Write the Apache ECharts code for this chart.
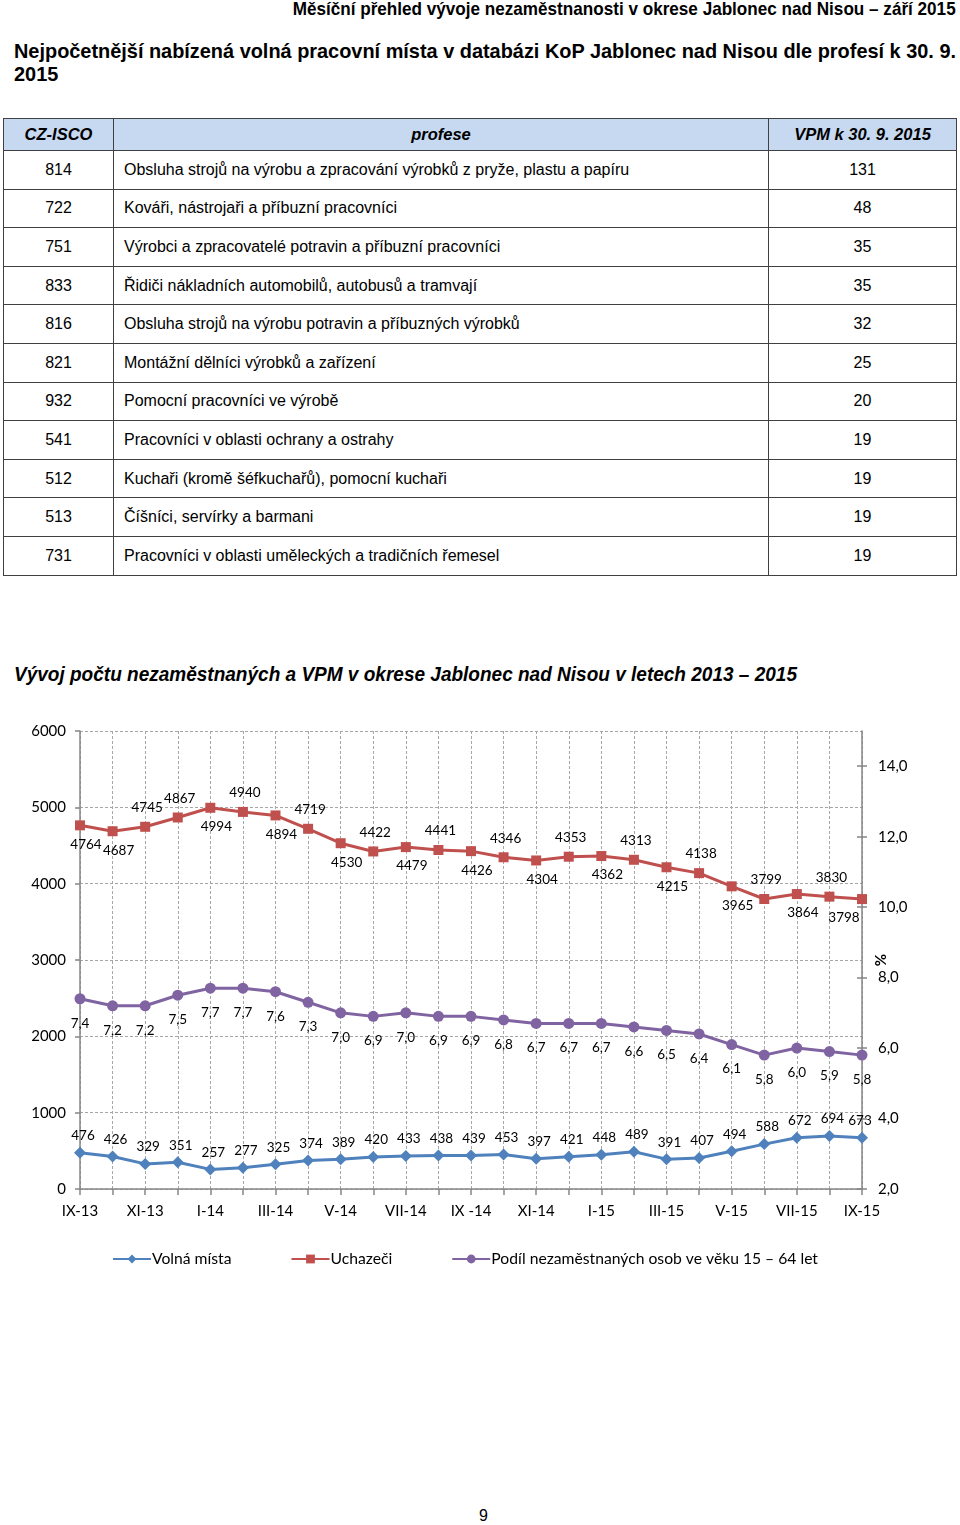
<!DOCTYPE html>
<html><head><meta charset="utf-8">
<script src="https://cdn.jsdelivr.net/npm/echarts@6/dist/echarts.min.js"></script>
<style>
html,body{margin:0;padding:0;background:#fff;}
body{width:960px;height:1525px;position:relative;overflow:hidden;font-family:"Liberation Sans",Arial,sans-serif;color:#000;}
.fit{position:absolute;white-space:nowrap;display:inline-block;}
#hdr{top:-2px;font:bold 18.5px "Liberation Sans",Arial,sans-serif;transform-origin:right top;}
#t1{left:14px;top:39px;font:bold 21px "Liberation Sans",Arial,sans-serif;transform-origin:left top;}
#t2{left:14px;top:62px;font:bold 21px "Liberation Sans",Arial,sans-serif;transform-origin:left top;}
#tbl{position:absolute;left:3px;top:118px;border-collapse:collapse;width:953px;table-layout:fixed;}
#tbl th,#tbl td{border:1px solid #404040;padding:0;}
#tbl th{background:#C6D9F1;font:italic bold 16.5px "Liberation Sans",Arial,sans-serif;height:31px;}
#tbl td{font:16px "Liberation Sans",Arial,sans-serif;height:37.6px;}
#tbl td.c{text-align:center;}
#tbl td.p{text-align:left;padding-left:10px;}
#ctitle{left:14px;top:662px;font:italic bold 21px "Liberation Sans",Arial,sans-serif;transform-origin:left top;}
#chart{position:absolute;left:0;top:700px;width:960px;height:600px;}
#pg{position:absolute;left:479px;top:1507px;font:16px "Liberation Sans",Arial,sans-serif;}
</style>
</head><body>
<span id="hdr" class="fit">Měsíční přehled vývoje nezaměstnanosti v okrese Jablonec nad Nisou – září 2015</span>
<span id="t1" class="fit">Nejpočetnější nabízená volná pracovní místa v databázi KoP Jablonec nad Nisou dle profesí k 30. 9.</span>
<span id="t2" class="fit">2015</span>
<table id="tbl"><colgroup><col style="width:110px"><col style="width:655px"><col style="width:188px"></colgroup><thead><tr id="hrow"></tr></thead><tbody id="tbody"></tbody></table>
<span id="ctitle" class="fit">Vývoj počtu nezaměstnaných a VPM v okrese Jablonec nad Nisou v letech 2013 – 2015</span>
<div id="chart"></div>
<div id="pg">9</div>
<script>
// ---- table data ----
const tableHeaders = ['CZ-ISCO', 'profese', 'VPM k 30. 9. 2015'];
const iscoCodes = ['814','722','751','833','816','821','932','541','512','513','731'];
const professions = [
  'Obsluha strojů na výrobu a zpracování výrobků z pryže, plastu a papíru',
  'Kováři, nástrojaři a příbuzní pracovníci',
  'Výrobci a zpracovatelé potravin a příbuzní pracovníci',
  'Řidiči nákladních automobilů, autobusů a tramvají',
  'Obsluha strojů na výrobu potravin a příbuzných výrobků',
  'Montážní dělníci výrobků a zařízení',
  'Pomocní pracovníci ve výrobě',
  'Pracovníci v oblasti ochrany a ostrahy',
  'Kuchaři (kromě šéfkuchařů), pomocní kuchaři',
  'Číšníci, servírky a barmani',
  'Pracovníci v oblasti uměleckých a tradičních řemesel'
];
const vacancies = [131, 48, 35, 35, 32, 25, 20, 19, 19, 19, 19];

// ---- chart data ----
const categories = ['IX-13','X-13','XI-13','XII-13','I-14','II-14','III-14','IV-14','V-14','VI-14','VII-14','VIII-14','IX -14','X-14','XI-14','XII-14','I-15','II-15','III-15','IV-15','V-15','VI-15','VII-15','VIII-15','IX-15'];
const volnaMista = [476, 426, 329, 351, 257, 277, 325, 374, 389, 420, 433, 438, 439, 453, 397, 421, 448, 489, 391, 407, 494, 588, 672, 694, 673];
const uchazeci = [4764, 4687, 4745, 4867, 4994, 4940, 4894, 4719, 4530, 4422, 4479, 4441, 4426, 4346, 4304, 4353, 4362, 4313, 4215, 4138, 3965, 3799, 3864, 3830, 3798];
const podil = [7.4, 7.2, 7.2, 7.5, 7.7, 7.7, 7.6, 7.3, 7.0, 6.9, 7.0, 6.9, 6.9, 6.8, 6.7, 6.7, 6.7, 6.6, 6.5, 6.4, 6.1, 5.8, 6.0, 5.9, 5.8];
const seriesNames = ['Volná místa', 'Uchazeči', 'Podíl nezaměstnaných osob ve věku 15 – 64 let'];
const leftTicks = [0, 1000, 2000, 3000, 4000, 5000, 6000];
const rightTicks = [2, 4, 6, 8, 10, 12, 14];

// build table
const hrow = document.getElementById('hrow');
tableHeaders.forEach(h => { const th = document.createElement('th'); th.textContent = h; hrow.appendChild(th); });
const tbody = document.getElementById('tbody');
iscoCodes.forEach((c, i) => {
  const tr = document.createElement('tr');
  const a = document.createElement('td'); a.className = 'c'; a.textContent = c;
  const b = document.createElement('td'); b.className = 'p'; b.textContent = professions[i];
  const d = document.createElement('td'); d.className = 'c'; d.textContent = vacancies[i];
  tr.appendChild(a); tr.appendChild(b); tr.appendChild(d); tbody.appendChild(tr);
});

// condensed headings (narrow face emulation)
function fit(id, width, anchorRight) {
  const el = document.getElementById(id);
  const w = el.getBoundingClientRect().width;
  const s = width / w;
  el.style.transform = 'scaleX(' + s + ')';
  if (anchorRight) el.style.left = (956 - w) + 'px';
  return s;
}
fit('hdr', 663, true);
const sT = fit('t1', 942, false);
document.getElementById('t2').style.transform = 'scaleX(' + sT + ')';
fit('ctitle', 783, false);

// chart
const FONT = 'Lato';
const axisGray = '#868686';
const gridGray = '#A6A6A6';
const topLabelIdx = [2,3,5,7,9,11,13,15,17,19,21,23];
const comma = v => Number(v).toFixed(1).replace('.', ',');
const lastIdx = categories.length - 1;

const chart = echarts.init(document.getElementById('chart'), null, {renderer: 'canvas'});
chart.setOption({
  animation: false,
  textStyle: {fontFamily: FONT},
  grid: {left: 80, right: 98, top: 31, bottom: 111, containLabel: false},
  legend: {
    data: seriesNames, left: 107, top: 546, itemWidth: 38, itemHeight: 11, itemGap: 59,
    textStyle: {fontFamily: FONT, fontSize: 15.7, color: '#000', padding: [0,0,0,-4]}
  },
  xAxis: {
    type: 'category', data: categories, boundaryGap: false,
    axisLine: {lineStyle: {color: axisGray, width: 1.5}},
    axisTick: {show: true, interval: 0, length: 6, lineStyle: {color: axisGray, width: 1.5}},
    axisLabel: {interval: 1, color: '#000', fontFamily: FONT, fontSize: 15, margin: 15},
    splitLine: {show: true, interval: 0, lineStyle: {type: [3, 2], color: gridGray, width: 1}}
  },
  yAxis: [
    {
      type: 'value', min: 0, max: 6000, interval: 1000,
      axisLine: {show: true, lineStyle: {color: axisGray, width: 1.5}},
      axisTick: {show: true, length: 5, lineStyle: {color: axisGray, width: 1.5}},
      axisLabel: {color: '#000', fontFamily: FONT, fontSize: 15, margin: 14, customValues: leftTicks, formatter: v => String(v)},
      splitLine: {show: true, lineStyle: {type: [3, 2], color: gridGray, width: 1}}
    },
    {
      type: 'value', position: 'right', min: 2, max: 15, interval: 2,
      name: '%', nameLocation: 'middle', nameRotate: 90, nameGap: 12, nameMoveOverlap: false,
      nameTextStyle: {fontFamily: FONT, fontSize: 15, fontWeight: 'bold', color: '#000'},
      axisLine: {show: true, lineStyle: {color: axisGray, width: 1.5}},
      axisTick: {show: true, length: 5, customValues: rightTicks, lineStyle: {color: axisGray, width: 1.5}},
      axisLabel: {color: '#000', fontFamily: FONT, fontSize: 15, margin: 16, customValues: rightTicks, formatter: v => comma(v)},
      splitLine: {show: false}
    },
    {
      type: 'value', position: 'right', min: 2, max: 15, interval: 2,
      axisLine: {show: false},
      axisTick: {show: true, inside: true, length: 5, customValues: rightTicks, lineStyle: {color: axisGray, width: 1.5}},
      axisLabel: {show: false},
      splitLine: {show: false}
    }
  ],
  series: [
    {
      name: seriesNames[0], type: 'line', yAxisIndex: 0,
      data: volnaMista.map((v, i) => i === lastIdx ? {value: v, label: {offset: [-2, 0]}} : v),
      symbol: 'diamond', symbolSize: 12, color: '#4F81BD',
      lineStyle: {width: 3, color: '#4F81BD'}, itemStyle: {color: '#4F81BD'},
      label: {show: true, position: 'top', distance: 4, offset: [3, 0], fontFamily: FONT, fontSize: 13.5, color: '#000'}
    },
    {
      name: seriesNames[1], type: 'line', yAxisIndex: 0,
      data: uchazeci.map((v, i) => ({value: v, label: {
        position: topLabelIdx.includes(i) ? 'top' : 'bottom',
        offset: i === lastIdx ? [-18, 0] : (topLabelIdx.includes(i) ? [2, 0] : [6, 0])
      }})),
      symbol: 'rect', symbolSize: 10, color: '#C0504D',
      lineStyle: {width: 3, color: '#C0504D'}, itemStyle: {color: '#C0504D'},
      label: {show: true, distance: 7, fontFamily: FONT, fontSize: 13.5, color: '#000'}
    },
    {
      name: seriesNames[2], type: 'line', yAxisIndex: 1, data: podil,
      symbol: 'circle', symbolSize: 11, color: '#8064A2',
      lineStyle: {width: 3, color: '#8064A2'}, itemStyle: {color: '#8064A2'},
      label: {show: true, position: 'bottom', distance: 12, fontFamily: FONT, fontSize: 13.5, color: '#000', formatter: p => comma(p.value)}
    }
  ]
});
</script>
</body></html>
